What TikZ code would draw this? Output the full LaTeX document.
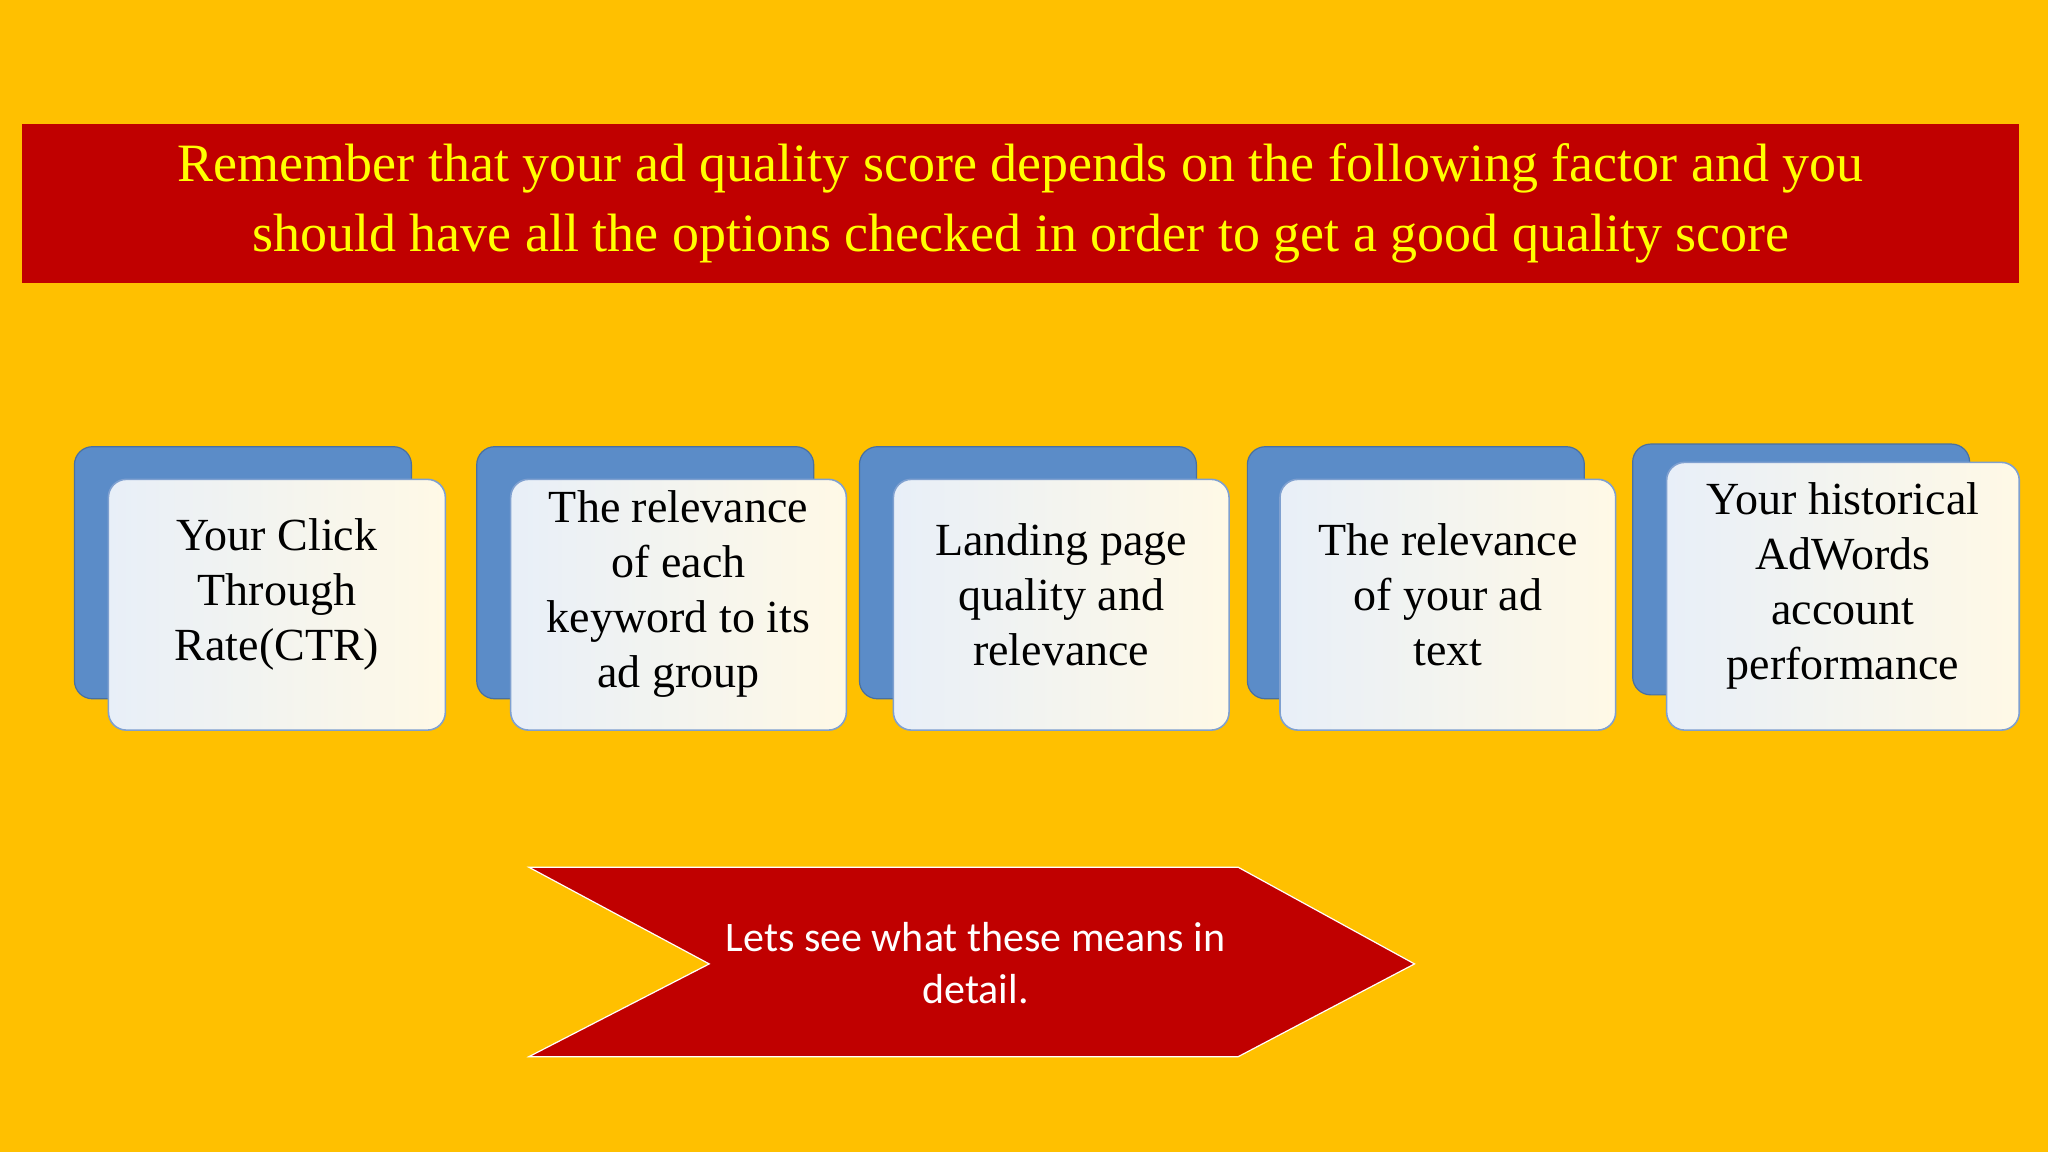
\documentclass[tikz,border=0pt]{standalone}
\usepackage{fontspec}
\setmainfont{Liberation Serif}
\newfontfamily\arrowfont{Carlito}
\definecolor{bg}{HTML}{FFC000}
\definecolor{banner}{HTML}{C00000}
\definecolor{ttext}{HTML}{FFFF00}
\definecolor{backbox}{HTML}{5B8CC8}
\definecolor{frontedge}{HTML}{7FA0D0}
\definecolor{frontA}{HTML}{E8EFF8}
\definecolor{frontB}{HTML}{FFF9E6}
\tikzset{
 backbox/.style={draw=backbox!80!black,line width=0.6pt,fill=backbox,rounded corners=9pt},
 frontbox/.style={draw=frontedge,line width=0.8pt,left color=frontA,right color=frontB,rounded corners=9pt},
 boxtext/.style={font=\fontsize{23}{27.5}\selectfont,align=center,text=black},
}
\begin{document}
\begin{tikzpicture}[x=0.653pt,y=-0.653pt]
\useasboundingbox (0,0) rectangle (1568,882);
\fill[bg] (0,0) rectangle (1568,882);
\node[fill=banner,minimum width=1529*0.653pt,minimum height=122*0.653pt,inner sep=0pt,text=ttext,align=center,font=\fontsize{27}{35}\selectfont] (title) at (781.5,156) {Remember that your ad quality score depends on the following factor and you\\should have all the options checked in order to get a good quality score};
% boxes
\foreach \n/\bx/\fx/\fr/\by/\bb/\fy/\txt in {
 a/57/83/341/342/535/367/{Your Click\\Through\\Rate(CTR)},
 b/365/391/648/342/535/367/{The relevance\\of each\\keyword to its\\ad group},
 c/658/684/941/342/535/367/{Landing page\\quality and\\relevance},
 d/955/980/1237/342/535/367/{The relevance\\of your ad\\text},
 e/1250/1276/1546/340/532/354/{Your historical\\AdWords\\account\\performance}}{
 \draw[backbox] (\bx,\by) rectangle (\bx+258,\bb);
 \draw[frontbox] (\fx,\fy) rectangle (\fr,559);
 \node[boxtext] (\n) at ({(\fx+\fr)/2},{(\fy+559)/2-8}) {\txt};
}
% arrow
\draw[fill=banner,draw=white,line width=0.6pt] (405,664) -- (948,664) -- (1083,738) -- (948,809) -- (405,809) -- (543,738) -- cycle;
\node[text=white,font=\arrowfont\fontsize{21}{26}\selectfont,align=center] (arr) at (747,737) {Lets see what these means in\\detail.};
\end{tikzpicture}
\end{document}
